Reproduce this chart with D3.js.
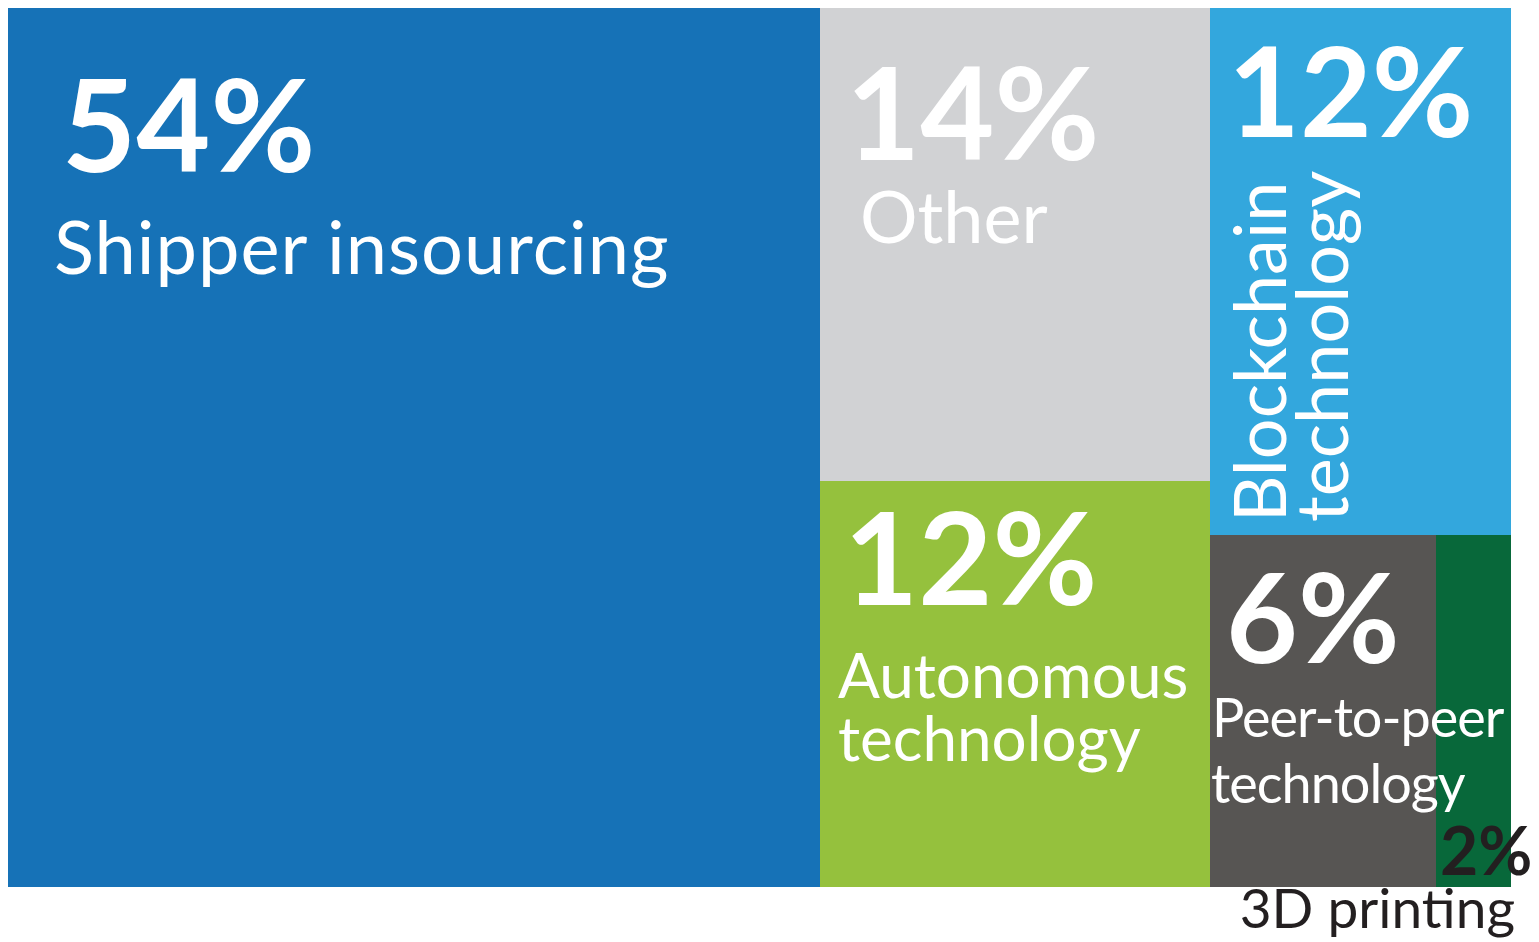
<!DOCTYPE html>
<html>
<head>
<meta charset="utf-8">
<script src="https://cdn.jsdelivr.net/npm/d3@7"></script>
<style>
  body { margin: 0; background: #fff; }
  svg text { font-family: Lato, "Open Sans", sans-serif; }
</style>
</head>
<body>
<div id="chart"></div>
<script>
// Shares of the market, in percent
const categories = ["Shipper insourcing", "Other", "Autonomous technology", "Blockchain technology", "Peer-to-peer technology", "3D printing"];
const values = [54, 14, 12, 12, 6, 2];
const colors = ["#1672b7", "#d1d2d4", "#95c13d", "#33a7dd", "#575553", "#08683a"];

// How the boxes are nested: "h" splits left to right, "v" splits top to bottom
const layout = {
    name: "root", split: "h", children: [
        { name: "Shipper insourcing" },
        { name: "rest", split: "h", children: [
            { name: "col1", split: "v", children: [{ name: "Other" }, { name: "Autonomous technology" }] },
            { name: "col2", split: "v", children: [
                { name: "Blockchain technology" },
                { name: "bottom", split: "h", children: [{ name: "Peer-to-peer technology" }, { name: "3D printing" }] }
            ] }
        ] }
    ]
};

const width = 1539, height = 942;
const margin = { top: 8, right: 28, bottom: 55, left: 8 },
      innerW = width - margin.left - margin.right,
      innerH = height - margin.top - margin.bottom;

const svg = d3.select("#chart")
    .append("svg")
    .attr("width", width)
    .attr("height", height)
    .append("g")
    .attr("transform", `translate(${margin.left},${margin.top})`);

const valueOf = new Map(categories.map((c, i) => [c, values[i]]));
const colorOf = d3.scaleOrdinal().domain(categories).range(colors);

const root = d3.hierarchy(layout)
    .sum(d => d.children ? 0 : valueOf.get(d.name));

// keep the order of the children, split them by the rule in the layout
const tile = function(node, x0, y0, x1, y1) {
    if (node.data.split === "v") d3.treemapSlice(node, x0, y0, x1, y1);
    else d3.treemapDice(node, x0, y0, x1, y1);
};

d3.treemap()
    .tile(tile)
    .size([innerW, innerH])
    .round(true)(root);

const leaves = root.leaves();
const leaf = name => leaves.find(d => d.data.name === name);

svg.selectAll("rect.cell")
    .data(leaves)
    .enter()
    .append("rect")
    .attr("class", "cell")
    .attr("x", d => d.x0)
    .attr("y", d => d.y0)
    .attr("width", d => d.x1 - d.x0)
    .attr("height", d => d.y1 - d.y0)
    .attr("fill", d => colorOf(d.data.name));

const pct = name => valueOf.get(name) + "%";

// helper for one line of text placed relative to a box corner
function label(g, text, x, y, size, weight, fill) {
    return g.append("text")
        .attr("x", x)
        .attr("y", y)
        .attr("font-size", size)
        .attr("font-weight", weight)
        .attr("fill", fill)
        .text(text);
}

// Shipper insourcing
let n = leaf("Shipper insourcing");
label(svg, pct(n.data.name), n.x0 + 54, n.y0 + 164, 128, 700, "#fff");
label(svg, "Shipper insourcing", n.x0 + 46, n.y0 + 266, 74, 400, "#fff")
    .attr("letter-spacing", 1);

// Other
n = leaf("Other");
label(svg, pct(n.data.name), n.x0 + 26, n.y0 + 152, 128, 700, "#fff");
label(svg, "Other", n.x0 + 40, n.y0 + 235, 72, 400, "#fff");

// Autonomous technology
n = leaf("Autonomous technology");
label(svg, pct(n.data.name), n.x0 + 24, n.y0 + 124, 128, 700, "#fff");
label(svg, "Autonomous", n.x0 + 18, n.y0 + 217, 62, 400, "#fff");
label(svg, "technology", n.x0 + 18, n.y0 + 280, 62, 400, "#fff");

// Blockchain technology (text turned upright)
n = leaf("Blockchain technology");
label(svg, pct(n.data.name), n.x0 + 18, n.y0 + 129, 124, 700, "#fff");
svg.append("text")
    .attr("transform", `translate(${n.x0 + 76},${n.y1 - 13}) rotate(-90)`)
    .attr("font-size", 72)
    .attr("fill", "#fff")
    .text("Blockchain");
svg.append("text")
    .attr("transform", `translate(${n.x0 + 138},${n.y1 - 13}) rotate(-90)`)
    .attr("font-size", 72)
    .attr("fill", "#fff")
    .text("technology");

// Peer-to-peer technology
n = leaf("Peer-to-peer technology");
label(svg, pct(n.data.name), n.x0 + 16, n.y0 + 128, 124, 700, "#fff");
label(svg, "Peer-to-peer", n.x0 + 2, n.y0 + 202, 54, 400, "#fff")
    .attr("letter-spacing", -1);
label(svg, "technology", n.x0 + 1, n.y0 + 268, 54, 400, "#fff")
    .attr("letter-spacing", -1);

// 3D printing, label sits below the chart
n = leaf("3D printing");
label(svg, pct(n.data.name), n.x0 + 4, n.y1 - 12, 66, 700, "#231f20");
label(svg, "3D printing", n.x1 + 4, n.y1 + 41, 55, 400, "#231f20")
    .attr("text-anchor", "end");
</script>
</body>
</html>
